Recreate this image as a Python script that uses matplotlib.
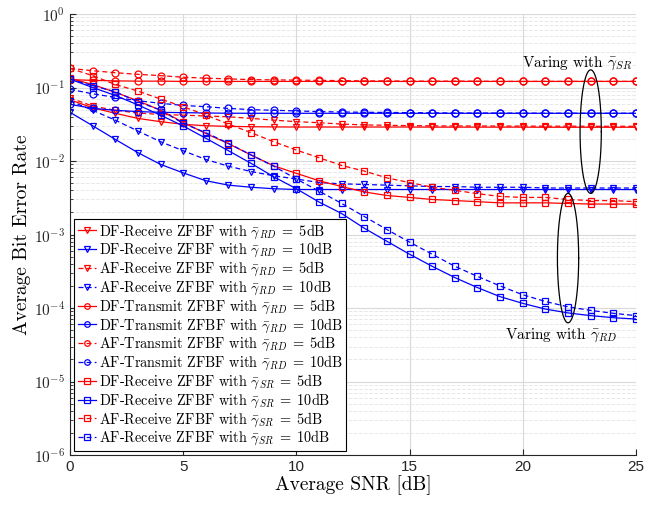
import numpy as np
import matplotlib
matplotlib.use('Agg')
import matplotlib.pyplot as plt
from matplotlib.ticker import FixedLocator, LogLocator, NullFormatter

plt.rcParams['font.family'] = 'cmr10'
plt.rcParams['mathtext.fontset'] = 'cm'
plt.rcParams['axes.formatter.use_mathtext'] = True

snr = list(range(26))

df_rx_rd5 = [0.068, 0.053, 0.0446, 0.038, 0.0343, 0.0316, 0.0302, 0.0296, 0.0293, 0.0291, 0.029, 0.029, 0.029,
             0.029, 0.029, 0.029, 0.0289, 0.0289, 0.0289, 0.0289, 0.0289, 0.0288, 0.0288, 0.0288, 0.0288, 0.0288]
df_rx_rd10 = [0.046, 0.0302, 0.0197, 0.013, 0.009, 0.0069, 0.0054, 0.0047, 0.0044, 0.0042, 0.0041, 0.0041, 0.0041,
              0.0041, 0.0041, 0.0041, 0.0041, 0.0041, 0.0041, 0.0041, 0.0041, 0.0041, 0.0041, 0.0041, 0.0041, 0.0041]
af_rx_rd5 = [0.072, 0.056, 0.049, 0.045, 0.043, 0.042, 0.041, 0.040, 0.038, 0.036, 0.0343, 0.0332, 0.0318,
             0.031, 0.0306, 0.0303, 0.0301, 0.030, 0.030, 0.0299, 0.0299, 0.0298, 0.0298, 0.0297, 0.0297, 0.0297]
af_rx_rd10 = [0.066, 0.049, 0.036, 0.0256, 0.0183, 0.0138, 0.0105, 0.0085, 0.0072, 0.0063, 0.0057, 0.0051, 0.0049,
              0.0048, 0.0047, 0.0046, 0.0045, 0.0045, 0.0044, 0.0044, 0.0044, 0.0043, 0.0043, 0.0043, 0.0043, 0.0043]
df_tx_rd5 = [0.128, 0.125, 0.123, 0.122, 0.122, 0.121, 0.121, 0.121, 0.121, 0.121, 0.121, 0.121, 0.121,
             0.121, 0.121, 0.121, 0.121, 0.121, 0.121, 0.121, 0.121, 0.121, 0.121, 0.121, 0.121, 0.121]
df_tx_rd10 = [0.059, 0.052, 0.049, 0.047, 0.046, 0.0455, 0.045, 0.0447, 0.0446, 0.0446, 0.0446, 0.0446, 0.0446,
              0.0446, 0.0446, 0.0446, 0.0446, 0.0446, 0.0446, 0.0446, 0.0446, 0.0446, 0.0446, 0.0446, 0.0446, 0.0446]
af_tx_rd5 = [0.182, 0.169, 0.159, 0.151, 0.145, 0.138, 0.134, 0.131, 0.128, 0.127, 0.126, 0.125, 0.124,
             0.123, 0.123, 0.122, 0.122, 0.122, 0.122, 0.121, 0.121, 0.121, 0.121, 0.121, 0.121, 0.121]
af_tx_rd10 = [0.0945, 0.082, 0.0735, 0.066, 0.061, 0.057, 0.0548, 0.052, 0.050, 0.049, 0.048, 0.047, 0.0465,
              0.046, 0.0458, 0.0455, 0.0453, 0.045, 0.045, 0.0449, 0.0448, 0.0447, 0.0447, 0.0447, 0.0446, 0.0446]
df_rx_sr5 = [0.133, 0.11, 0.086, 0.066, 0.049, 0.0335, 0.0237, 0.0172, 0.0121, 0.0086, 0.0068, 0.0054, 0.0045,
             0.0038, 0.0034, 0.0032, 0.0030, 0.0029, 0.0028, 0.0027, 0.0027, 0.0027, 0.00265, 0.0026, 0.0026, 0.0026]
df_rx_sr10 = [0.13, 0.10, 0.078, 0.058, 0.042, 0.030, 0.0204, 0.0138, 0.0093, 0.0061, 0.0042, 0.00277, 0.00193,
              0.00122, 0.00081, 0.00054, 0.00037, 0.00026, 0.00019, 0.000143, 0.000116, 9.7e-5, 8.6e-5, 7.9e-5,
              7.4e-5, 7.1e-5]
af_rx_sr5 = [0.182, 0.145, 0.110, 0.0895, 0.0698, 0.0548, 0.0423, 0.0318, 0.0243, 0.0183, 0.0141, 0.0111, 0.0087,
             0.0073, 0.0059, 0.0051, 0.0044, 0.0040, 0.0036, 0.0033, 0.0032, 0.0032, 0.0030, 0.0029, 0.0029, 0.0028]
af_rx_sr10 = [0.13, 0.106, 0.0875, 0.064, 0.0494, 0.0325, 0.0243, 0.0174, 0.0121, 0.0085, 0.0057, 0.0039, 0.00265,
              0.00176, 0.00117, 0.00079, 0.00054, 0.00037, 0.00027, 0.0002, 0.000152, 0.000123, 0.000104, 9.3e-5,
              8.5e-5, 7.9e-5]

rd = r'$\bar{\gamma}_{RD}\;=\;'
sr = r'$\bar{\gamma}_{SR}\;=\;'
series = [
    (df_rx_rd5, 'r', '-', 'v', 'DF-Receive ZFBF with ' + rd + '5$dB'),
    (df_rx_rd10, 'b', '-', 'v', 'DF-Receive ZFBF with ' + rd + '10$dB'),
    (af_rx_rd5, 'r', '--', 'v', 'AF-Receive ZFBF with ' + rd + '5$dB'),
    (af_rx_rd10, 'b', '--', 'v', 'AF-Receive ZFBF with ' + rd + '10$dB'),
    (df_tx_rd5, 'r', '-', 'o', 'DF-Transmit ZFBF with ' + rd + '5$dB'),
    (df_tx_rd10, 'b', '-', 'o', 'DF-Transmit ZFBF with ' + rd + '10$dB'),
    (af_tx_rd5, 'r', '--', 'o', 'AF-Transmit ZFBF with ' + rd + '5$dB'),
    (af_tx_rd10, 'b', '--', 'o', 'AF-Transmit ZFBF with ' + rd + '10$dB'),
    (df_rx_sr5, 'r', '-', 's', 'DF-Receive ZFBF with ' + sr + '5$dB'),
    (df_rx_sr10, 'b', '-', 's', 'DF-Receive ZFBF with ' + sr + '10$dB'),
    (af_rx_sr5, 'r', '--', 's', 'AF-Receive ZFBF with ' + sr + '5$dB'),
    (af_rx_sr10, 'b', '--', 's', 'AF-Receive ZFBF with ' + sr + '10$dB'),
]

fig = plt.figure(figsize=(6.45, 5.08), dpi=100)
ax = fig.add_axes([0.1085, 0.104, 0.8775, 0.8685])

for vals, c, ls, m, lab in series:
    ax.semilogy(snr, vals, color=c, linestyle=ls, marker=m, markersize=5, markerfacecolor='none',
                markeredgewidth=0.9, linewidth=0.9, dashes=(4, 2.5) if ls == '--' else (None, None), label=lab)

# ellipses drawn in log space so they look round on the log axis
t = np.linspace(0, 2 * np.pi, 200)
ax.plot(23 + 0.47 * np.cos(t), 10 ** (-1.60 + 0.84 * np.sin(t)), color='k', linewidth=0.9)
ax.plot(22 + 0.47 * np.cos(t), 10 ** (-3.32 + 0.88 * np.sin(t)), color='k', linewidth=0.9)
ax.text(22.4, 0.215, r'Varing with $\bar{\gamma}_{SR}$', ha='center', va='center', fontsize=11)
ax.text(21.7, 4.3e-5, r'Varing with $\bar{\gamma}_{RD}$', ha='center', va='center', fontsize=11)

ax.set_xlim(0, 25)
ax.set_ylim(1e-6, 1)
ax.set_xticks([0, 5, 10, 15, 20, 25])
ax.set_xticklabels(['0', '5', '10', '15', '20', '25'], fontfamily='Liberation Sans', fontsize=11)
ax.yaxis.set_major_locator(FixedLocator([10.0 ** k for k in range(-6, 1)]))
ax.set_yticklabels([r'$\mathsf{10^{%d}}$' % k for k in range(-6, 1)], fontsize=11)
ax.yaxis.set_minor_locator(LogLocator(base=10, subs=np.arange(2, 10), numticks=20))
ax.yaxis.set_minor_formatter(NullFormatter())

ax.grid(True, which='major', color='#d9d9d9', linewidth=0.8, linestyle='-')
ax.grid(True, which='minor', axis='y', color='#e8e8e8', linewidth=0.7, linestyle='--')
ax.set_axisbelow(True)
ax.tick_params(which='both', direction='in', top=False, right=False, colors='#262626')
ax.tick_params(which='major', length=4)
ax.tick_params(which='minor', length=2)
ax.spines['top'].set_visible(False)
ax.spines['right'].set_visible(False)
ax.spines['left'].set_color('#262626')
ax.spines['bottom'].set_color('#262626')

ax.set_xlabel('Average SNR [dB]', fontsize=14, labelpad=1)
ax.set_ylabel('Average Bit Error Rate', fontsize=14, labelpad=2)

leg = ax.legend(loc='lower left', fontsize=10.3, handlelength=1.3, handletextpad=0.15, labelspacing=0.04,
                borderpad=0.25, borderaxespad=0.3, fancybox=False, framealpha=1, edgecolor='k', markerscale=0.8)
leg.get_frame().set_linewidth(0.8)

fig.savefig('out.png', dpi=100)
